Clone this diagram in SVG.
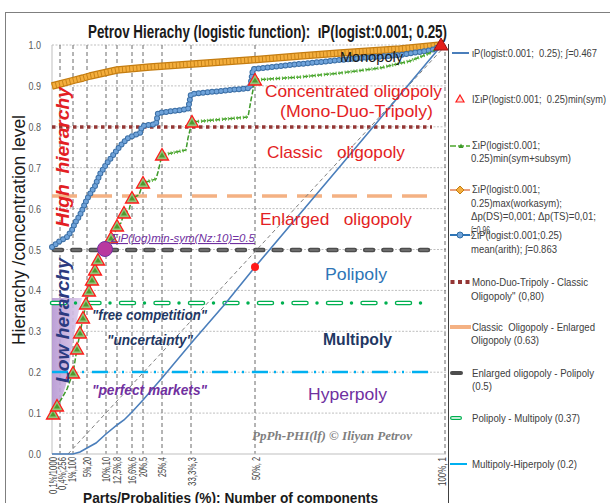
<svg xmlns="http://www.w3.org/2000/svg" width="610" height="503" viewBox="0 0 610 503">
<style>
text { font-family: "Liberation Sans", Arial, sans-serif; }
.tick { font-size: 11px; fill: #595959; }
.xl { font-size: 10.5px; fill: #404040; }
.lg { font-size: 11px; fill: #404040; }
.zone { font-size: 17px; }
.q { font-size: 15px; font-weight: bold; font-style: italic; }
.red { fill: #E31E24; }
.gh { stroke: #BFBFBF; stroke-width: 1; stroke-dasharray: 2 1.5; }
.gv { stroke: #595959; stroke-width: 0.9; stroke-dasharray: 4 3; }
</style>
<defs>
  <g id="tri"><polygon points="0,-6.5 6.5,5 -6.5,5" fill="#96C47C" stroke="#FF1A1A" stroke-width="1.3"/><polygon points="0,-2.5 3,2.5 -3,2.5" fill="#4E9A2E"/></g>
  <linearGradient id="lav" x1="0" y1="0" x2="1" y2="0">
    <stop offset="0" stop-color="#B596D2"/>
    <stop offset="1" stop-color="#DCCBEB"/>
  </linearGradient>
</defs>
<rect width="610" height="503" fill="#FFFFFF"/>
<rect x="5.5" y="12.5" width="620" height="500" fill="none" stroke="#7F7F7F" stroke-width="1"/>

<g id="title">
  <text x="88" y="38" font-size="19" font-weight="bold" fill="#1a1a1a" textLength="359" lengthAdjust="spacingAndGlyphs" xml:space="preserve">Petrov Hierachy (logistic function):  ιP(logist:0.001; 0.25)</text>
</g>

<g id="grid">
  <line class="gh" x1="52" y1="413.1" x2="446" y2="413.1"/>
  <line class="gh" x1="52" y1="372.2" x2="446" y2="372.2"/>
  <line class="gh" x1="52" y1="331.3" x2="446" y2="331.3"/>
  <line class="gh" x1="52" y1="290.4" x2="446" y2="290.4"/>
  <line class="gh" x1="52" y1="249.5" x2="446" y2="249.5"/>
  <line class="gh" x1="52" y1="208.6" x2="446" y2="208.6"/>
  <line class="gh" x1="52" y1="167.7" x2="446" y2="167.7"/>
  <line class="gh" x1="52" y1="126.8" x2="446" y2="126.8"/>
  <line class="gh" x1="52" y1="85.9" x2="446" y2="85.9"/>
  <line class="gh" x1="52" y1="45" x2="446" y2="45"/>
  <line class="gv" x1="60" y1="45" x2="60" y2="454"/>
  <line class="gv" x1="73" y1="45" x2="73" y2="454"/>
  <line class="gv" x1="87" y1="45" x2="87" y2="454"/>
  <line class="gv" x1="106" y1="45" x2="106" y2="454"/>
  <line class="gv" x1="117" y1="45" x2="117" y2="454"/>
  <line class="gv" x1="132" y1="45" x2="132" y2="454"/>
  <line class="gv" x1="143" y1="45" x2="143" y2="454"/>
  <line class="gv" x1="162" y1="45" x2="162" y2="454"/>
  <line class="gv" x1="191" y1="45" x2="191" y2="454"/>
  <line class="gv" x1="255" y1="45" x2="255" y2="454"/>
  <line class="gv" x1="445" y1="45" x2="445" y2="454"/>
  <line x1="52" y1="45" x2="52" y2="454" stroke="#BFBFBF" stroke-width="1"/>
  <line x1="52" y1="454" x2="446" y2="454" stroke="#BFBFBF" stroke-width="1"/>
</g>

<g id="axes">
  <text class="tick" x="41" y="49" text-anchor="end" textLength="12.5" lengthAdjust="spacingAndGlyphs">1.0</text>
  <text class="tick" x="41" y="90" text-anchor="end" textLength="12.5" lengthAdjust="spacingAndGlyphs">0.9</text>
  <text class="tick" x="41" y="131" text-anchor="end" textLength="12.5" lengthAdjust="spacingAndGlyphs">0.8</text>
  <text class="tick" x="41" y="172" text-anchor="end" textLength="12.5" lengthAdjust="spacingAndGlyphs">0.7</text>
  <text class="tick" x="41" y="213" text-anchor="end" textLength="12.5" lengthAdjust="spacingAndGlyphs">0.6</text>
  <text class="tick" x="41" y="254" text-anchor="end" textLength="12.5" lengthAdjust="spacingAndGlyphs">0.5</text>
  <text class="tick" x="41" y="294" text-anchor="end" textLength="12.5" lengthAdjust="spacingAndGlyphs">0.4</text>
  <text class="tick" x="41" y="335" text-anchor="end" textLength="12.5" lengthAdjust="spacingAndGlyphs">0.3</text>
  <text class="tick" x="41" y="376" text-anchor="end" textLength="12.5" lengthAdjust="spacingAndGlyphs">0.2</text>
  <text class="tick" x="41" y="417" text-anchor="end" textLength="12.5" lengthAdjust="spacingAndGlyphs">0.1</text>
  <text class="tick" x="41" y="458" text-anchor="end" textLength="12.5" lengthAdjust="spacingAndGlyphs">0.0</text>
  <text transform="translate(25,230) rotate(-90)" text-anchor="middle" font-size="18" fill="#1a1a1a" textLength="230" lengthAdjust="spacingAndGlyphs">Hierarchy /concentration level</text>
  <g class="xl">
    <text transform="translate(57,457) rotate(-90)" text-anchor="end" textLength="37" lengthAdjust="spacingAndGlyphs">0,1%/1000</text>
    <text transform="translate(66,457) rotate(-90)" text-anchor="end" textLength="33" lengthAdjust="spacingAndGlyphs">0,4%;256</text>
    <text transform="translate(76,457) rotate(-90)" text-anchor="end" textLength="25" lengthAdjust="spacingAndGlyphs">1%,100</text>
    <text transform="translate(91,457) rotate(-90)" text-anchor="end" textLength="20" lengthAdjust="spacingAndGlyphs">5%,20</text>
    <text transform="translate(110,457) rotate(-90)" text-anchor="end" textLength="25" lengthAdjust="spacingAndGlyphs">10%,10</text>
    <text transform="translate(121,457) rotate(-90)" text-anchor="end" textLength="27" lengthAdjust="spacingAndGlyphs">12,5%,8</text>
    <text transform="translate(136,457) rotate(-90)" text-anchor="end" textLength="27" lengthAdjust="spacingAndGlyphs">16,6%,6</text>
    <text transform="translate(147,457) rotate(-90)" text-anchor="end" textLength="20" lengthAdjust="spacingAndGlyphs">20%,5</text>
    <text transform="translate(166,457) rotate(-90)" text-anchor="end" textLength="20" lengthAdjust="spacingAndGlyphs">25%,4</text>
    <text transform="translate(196,457) rotate(-90)" text-anchor="end" textLength="29" lengthAdjust="spacingAndGlyphs">33,3%,3</text>
    <text transform="translate(260,457) rotate(-90)" text-anchor="end" textLength="23" lengthAdjust="spacingAndGlyphs" xml:space="preserve">50%, 2</text>
    <text transform="translate(446,457) rotate(-90)" text-anchor="end" textLength="29" lengthAdjust="spacingAndGlyphs" xml:space="preserve">100%, 1</text>
  </g>
  <text x="83" y="503" font-size="15" font-weight="bold" fill="#1a1a1a" textLength="295" lengthAdjust="spacingAndGlyphs">Parts/Probalities (%): Number of components</text>
</g>

<g id="low-zone">
  <polygon points="52,298 82,298 78,315 74,335 70,360 66,385 61,400 55,412 52,418" fill="url(#lav)" opacity="0.9"/>
</g>

<g id="thresholds">
  <line x1="52" y1="372" x2="432" y2="372" stroke="#00B0F0" stroke-width="2.5" stroke-dasharray="16 6 2 6 2 8"/>
  <line x1="52" y1="303" x2="425" y2="303" stroke="#00B050" stroke-width="4.5" stroke-linecap="round" stroke-dasharray="13 21.5"/>
  <line x1="52" y1="303" x2="425" y2="303" stroke="#FFFFFF" stroke-width="1.8" stroke-linecap="round" stroke-dasharray="13 21.5"/>
  <line x1="75.5" y1="303" x2="425" y2="303" stroke="#00B050" stroke-width="3.5" stroke-linecap="round" stroke-dasharray="0 34.5"/>
  <line x1="54" y1="250" x2="432" y2="250" stroke="#4D4D4D" stroke-width="4.5" stroke-linecap="round" stroke-dasharray="8 10.3"/>
  <line x1="54" y1="250" x2="432" y2="250" stroke="#8C8C8C" stroke-width="1.2" stroke-linecap="round" stroke-dasharray="8 10.3"/>
  <line x1="52" y1="196" x2="432" y2="196" stroke="#F4B183" stroke-width="3.5" stroke-dasharray="25 10"/>
  <line x1="52" y1="127" x2="432" y2="127" stroke="#943634" stroke-width="3.5" stroke-dasharray="3.5 3.5"/>
</g>

<g id="series">
  <line x1="68" y1="454" x2="446" y2="45" stroke="#808080" stroke-width="1" stroke-dasharray="4 3"/>
  <path d="M52,454 L73,454 L80,452 L87,448 L96,443 L106,434 L117,425 L124,420 L132,412 L143,400 L162,378 L193,341 L225,304 L255,267 L337,170 L441,46" fill="none" stroke="#4A7EBB" stroke-width="1.6"/>
  <g id="orange" fill="none" stroke-linejoin="round">
    <path d="M52,86 L60,84 L75,80 L83,78 L90,76 L117,70 L150,67 L193,64 L250,60 L300,56 L340,53 L400,49 L441,45" stroke="#C47C10" stroke-width="7.5"/>
    <path d="M52,86 L60,84 L75,80 L83,78 L90,76 L117,70 L150,67 L193,64 L250,60 L300,56 L340,53 L400,49 L441,45" stroke="#F4AE3D" stroke-width="5"/>
    <path d="M52,86 L60,84 L75,80 L83,78 L90,76 L117,70 L150,67 L193,64 L250,60 L300,56 L340,53 L400,49 L441,45" stroke="#C8841A" stroke-width="6" stroke-dasharray="1 2.6"/>
  </g>
  <g id="bluedots" fill="none" stroke-linejoin="round">
    <path d="M52,247 L60,241 L67,237 L72,230 L75,223 L80,215 L87,199 L95,186 L100,174 L107,163 L114,154 L120,146 L128,138 L140,133 L142,126 L156,124 L158,113 L188,109 L191,94 L250,88 L253,69 L300,64 L350,59 L400,55 L432,50 L441,46" stroke="#2E75B6" stroke-width="1.6"/>
    <path d="M52,247 L60,241 L67,237 L72,230 L75,223 L80,215 L87,199 L95,186 L100,174 L107,163 L114,154 L120,146 L128,138 L140,133 L142,126 L156,124 L158,113 L188,109 L191,94 L250,88 L253,69 L300,64 L350,59 L400,55 L432,50 L441,46" stroke="#3A6EA5" stroke-width="6" stroke-linecap="round" stroke-dasharray="0 4.5"/>
    <path d="M52,247 L60,241 L67,237 L72,230 L75,223 L80,215 L87,199 L95,186 L100,174 L107,163 L114,154 L120,146 L128,138 L140,133 L142,126 L156,124 L158,113 L188,109 L191,94 L250,88 L253,69 L300,64 L350,59 L400,55 L432,50 L441,46" stroke="#6FA3DA" stroke-width="4" stroke-linecap="round" stroke-dasharray="0 4.5"/>
  </g>
  <g id="green" fill="none" stroke-linejoin="round">
    <path d="M52,414 L57,406 L62,398 L67,389 L73,373 L77,349 L80,333 L83,318 L86,304 L89,291 L92,280 L95,270 L98,260 L102,251 L105,249 L108,246 L111,238 L114,236 L117,226 L121,223 L124,213 L129,210 L132,198 L139,195 L143,183 L156,179 L158,172 L162,155 L186,150 L188,138 L192,122 L248,117 L251,100 L255,80 L300,77 L340,73 L380,68 L410,61 L430,53 L441,46" stroke="#3E9A2A" stroke-width="1.5" stroke-dasharray="5 2"/>
    <path d="M143,183 L156,179 M162,155 L186,150 M192,122 L248,117 M255,80 L300,77 L340,73 L380,68 L410,61 L430,53" stroke="#5DB53B" stroke-width="3.5" stroke-dasharray="1 2"/>
  </g>
  <g id="tris">
    <use href="#tri" x="53" y="414"/>
    <use href="#tri" x="57" y="406"/>
    <use href="#tri" x="73" y="373"/>
    <use href="#tri" x="77" y="349"/>
    <use href="#tri" x="80" y="333"/>
    <use href="#tri" x="83" y="318"/>
    <use href="#tri" x="86" y="304"/>
    <use href="#tri" x="89" y="291"/>
    <use href="#tri" x="92" y="280"/>
    <use href="#tri" x="95" y="270"/>
    <use href="#tri" x="98" y="260"/>
    <use href="#tri" x="111" y="238"/>
    <use href="#tri" x="117" y="226"/>
    <use href="#tri" x="124" y="213"/>
    <use href="#tri" x="132" y="198"/>
    <use href="#tri" x="143" y="183"/>
    <use href="#tri" x="162" y="155"/>
    <use href="#tri" x="192" y="122"/>
    <use href="#tri" x="255" y="80"/>
    <polygon points="441,38 448,50 434,50" fill="#E3201B" stroke="#A01010" stroke-width="1"/>
  </g>
  <circle cx="105" cy="249" r="7.5" fill="#B8399F" stroke="#7030A0" stroke-width="1"/>
  <circle cx="255" cy="267" r="4" fill="#FF1A1A"/>
</g>

<g id="plot-labels">
  <text x="340" y="62" font-size="15" fill="#1a1a1a" textLength="63" lengthAdjust="spacingAndGlyphs">Monopoly</text>
  <text class="zone red" x="265" y="97" textLength="177" lengthAdjust="spacingAndGlyphs">Concentrated oligopoly</text>
  <text class="zone red" x="280" y="117" textLength="153" lengthAdjust="spacingAndGlyphs">(Mono-Duo-Tripoly)</text>
  <text class="zone red" x="267" y="158" textLength="138" lengthAdjust="spacingAndGlyphs" xml:space="preserve">Classic   oligopoly</text>
  <text class="zone red" x="260" y="225" textLength="152" lengthAdjust="spacingAndGlyphs" xml:space="preserve">Enlarged   oligopoly</text>
  <text class="zone" x="325" y="280" fill="#2E75B6" textLength="62" lengthAdjust="spacingAndGlyphs">Polipoly</text>
  <text class="zone" x="323" y="345" fill="#1F3864" font-weight="bold" textLength="69" lengthAdjust="spacingAndGlyphs">Multipoly</text>
  <text class="zone" x="308" y="400" fill="#7030A0" textLength="79" lengthAdjust="spacingAndGlyphs">Hyperpoly</text>
  <text class="q" x="92" y="320" fill="#1F3864" textLength="115" lengthAdjust="spacingAndGlyphs">"free competition"</text>
  <text class="q" x="107" y="345" fill="#1F3864" textLength="86" lengthAdjust="spacingAndGlyphs">"uncertainty"</text>
  <text class="q" x="92" y="395" fill="#7030A0" textLength="115" lengthAdjust="spacingAndGlyphs">"perfect markets"</text>
  <text x="111" y="242" font-size="11" font-style="italic" fill="#7030A0" text-decoration="underline" textLength="144" lengthAdjust="spacingAndGlyphs">ΣιP(log)min-sym(Nz:10)=0.5</text>
  <text transform="translate(69,227) rotate(-90)" font-size="18" font-weight="bold" font-style="italic" class="red" textLength="140" lengthAdjust="spacingAndGlyphs" xml:space="preserve">High  hierarchy</text>
  <text transform="translate(69,383) rotate(-90)" font-size="18" font-weight="bold" font-style="italic" fill="#2B3A80" textLength="125" lengthAdjust="spacingAndGlyphs">Low herarchy</text>
  <text x="252" y="440" font-size="13" font-weight="bold" font-style="italic" fill="#7F7F7F" textLength="160" lengthAdjust="spacingAndGlyphs" style="font-family:'Liberation Serif',serif">PpPh-PHI(lf) © Iliyan Petrov</text>
</g>

<g id="legend">
  <line x1="448.5" y1="44" x2="448.5" y2="503" stroke="#404040" stroke-width="1"/>
  <line x1="452" y1="53" x2="469" y2="53" stroke="#4A7EBB" stroke-width="2"/>
  <text class="lg" x="472" y="57" textLength="125" lengthAdjust="spacingAndGlyphs" xml:space="preserve">ιP(logist:0.001;  0.25); ∫=0.467</text>

  <polygon points="460,95 464,102 456,102" fill="#FBE0DC" stroke="#FF1A1A" stroke-width="1.2"/>
  <text class="lg" x="472" y="103" textLength="134" lengthAdjust="spacingAndGlyphs" xml:space="preserve">IΣιP(logist:0.001;  0.25)min(sym)</text>

  <line x1="450" y1="146" x2="470" y2="146" stroke="#4EA72E" stroke-width="1.5" stroke-dasharray="6 2"/>
  <polygon points="461,143.5 463.5,148 458.5,148" fill="#3E9A2A"/>
  <text class="lg" x="472" y="149" textLength="68" lengthAdjust="spacingAndGlyphs">ΣιP(logist:0.001;</text>
  <text class="lg" x="471" y="162" textLength="100" lengthAdjust="spacingAndGlyphs">0.25)min(sym+subsym)</text>

  <line x1="450" y1="190" x2="470" y2="190" stroke="#D9622B" stroke-width="1.2"/>
  <polygon points="460,186 464,190 460,194 456,190" fill="#F4AE3D" stroke="#C47C10" stroke-width="1"/>
  <text class="lg" x="472" y="193" textLength="68" lengthAdjust="spacingAndGlyphs">ΣιP(logist:0.001;</text>
  <text class="lg" x="471" y="206.5" textLength="91" lengthAdjust="spacingAndGlyphs">0.25)max(workasym);</text>
  <text class="lg" x="471" y="220" textLength="125" lengthAdjust="spacingAndGlyphs">Δp(DS)=0,001; Δp(TS)=0,01;</text>
  <text class="lg" x="471" y="233.5" textLength="19" lengthAdjust="spacingAndGlyphs">∫=0.96</text>

  <line x1="450" y1="235" x2="470" y2="235" stroke="#2E75B6" stroke-width="2"/>
  <circle cx="460" cy="235" r="3" fill="#6FA3DA" stroke="#2E6DA4" stroke-width="1"/>
  <text class="lg" x="471" y="238.5" textLength="91" lengthAdjust="spacingAndGlyphs">ΣιP(logist:0.001;0.25)</text>
  <text class="lg" x="471" y="252.5" textLength="86" lengthAdjust="spacingAndGlyphs">mean(arith); ∫=0.863</text>

  <rect x="450.5" y="280" width="4" height="4" fill="#943634"/>
  <rect x="458" y="280" width="4" height="4" fill="#943634"/>
  <rect x="465.5" y="280" width="4" height="4" fill="#943634"/>
  <text class="lg" x="472" y="285.5" textLength="116" lengthAdjust="spacingAndGlyphs">Mono-Duo-Tripoly - Classic</text>
  <text class="lg" x="471" y="299.5" textLength="73" lengthAdjust="spacingAndGlyphs">Oligopoly" (0,80)</text>

  <line x1="450" y1="327" x2="471" y2="327" stroke="#F4B183" stroke-width="4"/>
  <text class="lg" x="472" y="330.5" textLength="123" lengthAdjust="spacingAndGlyphs" xml:space="preserve">Classic  Oligopoly - Enlarged</text>
  <text class="lg" x="471" y="343.5" textLength="68" lengthAdjust="spacingAndGlyphs">Oligopoly (0.63)</text>

  <line x1="452" y1="373" x2="461" y2="373" stroke="#4D4D4D" stroke-width="4" stroke-linecap="round"/>
  <text class="lg" x="472" y="376.5" textLength="122" lengthAdjust="spacingAndGlyphs">Enlarged oligopoly - Polipoly</text>
  <text class="lg" x="472" y="389.5" textLength="20" lengthAdjust="spacingAndGlyphs">(0.5)</text>

  <line x1="452" y1="418" x2="460" y2="418" stroke="#00B050" stroke-width="4" stroke-linecap="round"/>
  <line x1="452" y1="418" x2="460" y2="418" stroke="#FFFFFF" stroke-width="1.6" stroke-linecap="round"/>
  <text class="lg" x="472" y="421.5" textLength="108" lengthAdjust="spacingAndGlyphs">Polipoly - Multipoly (0.37)</text>

  <line x1="450" y1="464" x2="467" y2="464" stroke="#00B0F0" stroke-width="2"/>
  <text class="lg" x="472" y="467.5" textLength="105" lengthAdjust="spacingAndGlyphs">Multipoly-Hiperpoly (0.2)</text>
</g>
</svg>
